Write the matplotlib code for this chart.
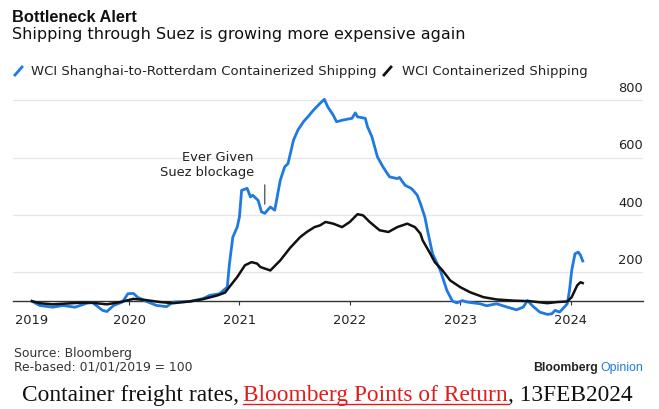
import matplotlib
matplotlib.use("Agg")
import matplotlib.pyplot as plt
import matplotlib.transforms as mtransforms
from matplotlib.lines import Line2D

# WCI indices, re-based 01/01/2019 = 100 (decimal years)
blue_t = [2019.12, 2019.19, 2019.31, 2019.40, 2019.51, 2019.62, 2019.67, 2019.76, 2019.80, 2019.86,
          2019.94, 2019.99, 2020.04, 2020.08, 2020.14, 2020.25, 2020.34, 2020.40, 2020.55, 2020.67,
          2020.73, 2020.82, 2020.89, 2020.91, 2020.94, 2020.98, 2021.00, 2021.02, 2021.07, 2021.10,
          2021.12, 2021.17, 2021.20, 2021.23, 2021.28, 2021.32, 2021.37, 2021.41, 2021.44, 2021.49,
          2021.53, 2021.58, 2021.62, 2021.67, 2021.73, 2021.77, 2021.80, 2021.85, 2021.88, 2021.94,
          2022.02, 2022.05, 2022.07, 2022.14, 2022.16, 2022.20, 2022.25, 2022.30, 2022.36, 2022.43,
          2022.45, 2022.50, 2022.56, 2022.61, 2022.64, 2022.68, 2022.71, 2022.75, 2022.82, 2022.88,
          2022.93, 2022.97, 2023.02, 2023.06, 2023.18, 2023.24, 2023.33, 2023.42, 2023.51, 2023.57,
          2023.61, 2023.66, 2023.72, 2023.79, 2023.83, 2023.86, 2023.90, 2023.93, 2023.97, 2023.99,
          2024.01, 2024.04, 2024.07, 2024.09, 2024.11]
blue_v = [100, 85, 79, 85, 79, 93, 95, 68, 64, 85,
          97, 126, 127, 113, 102, 85, 81, 97, 99, 109,
          120, 126, 149, 231, 323, 358, 393, 486, 493, 463,
          469, 451, 411, 406, 428, 417, 521, 568, 579, 661,
          696, 725, 742, 765, 789, 803, 777, 748, 725, 731,
          737, 756, 742, 737, 708, 673, 603, 568, 533, 527,
          531, 504, 492, 470, 440, 393, 335, 265, 207, 137,
          100, 94, 102, 97, 91, 84, 91, 80, 70, 79,
          102, 82, 62, 54, 56, 68, 62, 74, 91, 137,
          207, 265, 271, 260, 240]

black_t = [2019.12, 2019.19, 2019.31, 2019.53, 2019.65, 2019.80, 2019.92, 2020.04, 2020.13, 2020.28,
           2020.40, 2020.55, 2020.67, 2020.80, 2020.87, 2020.92, 2020.98, 2021.05, 2021.11, 2021.16,
           2021.19, 2021.28, 2021.37, 2021.46, 2021.55, 2021.61, 2021.68, 2021.73, 2021.78, 2021.85,
           2021.93, 2022.00, 2022.07, 2022.12, 2022.18, 2022.27, 2022.35, 2022.43, 2022.52, 2022.59,
           2022.64, 2022.66, 2022.73, 2022.77, 2022.84, 2022.91, 2023.00, 2023.09, 2023.21, 2023.33,
           2023.48, 2023.63, 2023.79, 2023.88, 2023.97, 2024.01, 2024.06, 2024.09, 2024.11]
black_v = [100, 93, 89, 94, 95, 89, 97, 108, 105, 97,
           93, 99, 107, 120, 130, 155, 184, 225, 236, 231,
           219, 207, 242, 286, 323, 341, 358, 364, 376, 370,
           358, 376, 403, 399, 376, 347, 341, 358, 370, 358,
           335, 312, 265, 236, 207, 172, 149, 131, 114, 106,
           102, 100, 93, 97, 99, 114, 155, 166, 163]

year_ticks = [2020, 2021, 2022, 2023, 2024]
year_labels = ["2020", "2021", "2022", "2023", "2024"]
first_year_pos = 2019.12
y_ticks = [200, 400, 600, 800]
blockage_date = 2021.23
blockage_span = (515, 428)

BLUE = "#1f7ae0"
W, H = 659, 409

fig = plt.figure(figsize=(W / 100, H / 100), dpi=100)
fig.patch.set_facecolor("white")
ax = fig.add_axes([13 / W, 1 - 318.4 / H, 630 / W, (318.4 - 85) / H])

ax.plot(blue_t, blue_v, color=BLUE, lw=2.0, zorder=3, solid_joinstyle="round")
ax.plot(black_t, black_v, color="#111111", lw=1.8, zorder=3, solid_joinstyle="round")

ax.set_xlim(2018.949, 2024.656)
ax.set_ylim(40, 853)

# grid + right-side labels sitting above the lines
ax.set_yticks(y_ticks)
ax.yaxis.grid(True, color="#e6e6e6", lw=0.9)
ax.set_axisbelow(True)
ax.tick_params(axis="y", length=0, labelleft=False)
off = mtransforms.ScaledTranslation(0, 0.085, fig.dpi_scale_trans)
for v in y_ticks:
    ax.text(1.0, v, str(v), transform=ax.get_yaxis_transform() + off,
            ha="right", va="baseline", fontsize=9.4, color="#222222")

for s in ["top", "right", "left"]:
    ax.spines[s].set_visible(False)
ax.spines["bottom"].set_position(("data", 100))
ax.spines["bottom"].set_color("#333333")
ax.spines["bottom"].set_linewidth(1.0)

ax.set_xticks(year_ticks)
ax.set_xticklabels(year_labels)
ax.tick_params(axis="x", length=3, width=0.8, color="#333333", pad=6,
               labelsize=9.4, labelcolor="#222222")
ax.set_xticks([first_year_pos], minor=True)
ax.set_xticklabels(["2019"], minor=True)
ax.tick_params(axis="x", which="minor", length=0, pad=9, labelsize=9.4, labelcolor="#222222")

# Ever Given annotation
ax.text(2021.132, 575, "Ever Given\nSuez blockage", ha="right", va="center",
        fontsize=9.4, color="#222222", linespacing=1.25)
ax.annotate("", xy=(blockage_date, blockage_span[1]), xytext=(blockage_date, blockage_span[0]),
            arrowprops=dict(arrowstyle="-", color="#333333", lw=0.8))

# titles
fig.text(12 / W, 1 - 22 / H, "Bottleneck Alert", fontsize=11.8, fontweight="bold",
         family="Liberation Sans", va="baseline", color="#111111")
fig.text(12 / W, 1 - 38.5 / H, "Shipping through Suez is growing more expensive again",
         fontsize=11.5, va="baseline", color="#111111")

# legend
fig.add_artist(Line2D([15 / W, 22 / W], [1 - 75 / H, 1 - 67 / H], color=BLUE, lw=2,
                      transform=fig.transFigure))
fig.text(31 / W, 1 - 75 / H, "WCI Shanghai-to-Rotterdam Containerized Shipping",
         fontsize=9.5, va="baseline", color="#222222")
fig.add_artist(Line2D([384 / W, 391 / W], [1 - 75 / H, 1 - 67 / H], color="#111111", lw=2,
                      transform=fig.transFigure))
fig.text(402 / W, 1 - 75 / H, "WCI Containerized Shipping",
         fontsize=9.5, va="baseline", color="#222222")

# footer
fig.text(14 / W, 1 - 353 / H, "Source: Bloomberg", fontsize=8.9, va="center", color="#333333")
fig.text(14 / W, 1 - 367 / H, "Re-based: 01/01/2019 = 100", fontsize=8.9, va="center",
         color="#333333")

renderer = fig.canvas.get_renderer()


def text_row(parts, x_px, y_px, ha):
    texts = []
    gaps = []
    for s, gap, kw in parts:
        texts.append(fig.text(0, 0, s, va="baseline", **kw))
        gaps.append(gap)
    widths = [t.get_window_extent(renderer).width for t in texts]
    total = sum(widths) + sum(gaps)
    if ha == "center":
        x = x_px - total / 2
    elif ha == "right":
        x = x_px - total
    else:
        x = x_px
    spans = []
    for t, w, g in zip(texts, widths, gaps):
        x += g
        t.set_position((x / W, 1 - y_px / H))
        spans.append((x, x + w))
        x += w
    return spans


text_row([("Bloomberg", 0, dict(fontsize=8.8, fontweight="bold", color="#222222",
                                family="Liberation Sans")),
          ("Opinion", 2, dict(fontsize=8.8, color=BLUE, family="Liberation Sans"))],
         643, 370.5, "right")

cap_kw = dict(fontsize=16.8, family="Liberation Serif")
sp = 4.3
spans = text_row([("Container freight rates,", 0, dict(color="#111111", **cap_kw)),
                  ("Bloomberg Points of Return", sp, dict(color="#e31b1b", **cap_kw)),
                  (", 13FEB2024", 0, dict(color="#111111", **cap_kw))],
                 327, 401, "center")
x0, x1 = spans[1]
fig.add_artist(Line2D([x0 / W, x1 / W], [1 - 403.5 / H, 1 - 403.5 / H], color="#e31b1b",
                      lw=1.0, transform=fig.transFigure))

fig.savefig("out.png", dpi=100, facecolor="white")
